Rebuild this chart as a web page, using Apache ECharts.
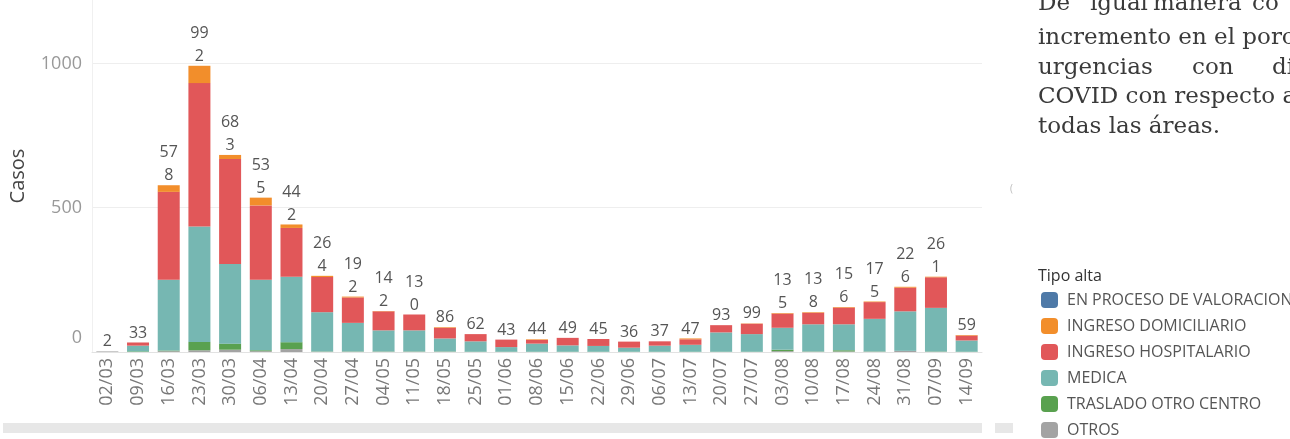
<!DOCTYPE html>
<html>
<head>
<meta charset="utf-8">
<script src="https://cdn.jsdelivr.net/npm/echarts@6/dist/echarts.min.js"></script>
<style>
html,body{margin:0;padding:0;background:#fff;}
#c{width:1290px;height:439px;}
</style>
</head>
<body>
<div id="c"></div>
<script>
var categories = ['02/03','09/03','16/03','23/03','30/03','06/04','13/04','20/04','27/04','04/05','11/05','18/05','25/05','01/06','08/06','15/06','22/06','29/06','06/07','13/07','20/07','27/07','03/08','10/08','17/08','24/08','31/08','07/09','14/09'];
var totals     = [2,33,578,992,683,535,442,264,192,142,130,86,62,43,44,49,45,36,37,47,93,99,135,138,156,175,226,261,59];
var otros      = [2,0,3,6,8,3,10,1,1,1,1,1,0,0,0,0,0,0,0,0,0,0,3,1,2,1,4,1,0];
var traslado   = [0,2,2,29,21,3,24,1,1,1,1,1,1,1,1,1,1,1,1,1,1,1,5,1,4,1,0,1,1];
var medica     = [0,20,245,400,276,244,227,136,99,73,73,45,36,16,28,22,20,14,21,24,67,61,76,94,90,113,137,151,39];
var hospital   = [0,11,305,497,364,258,169,122,88,66,55,37,25,26,13,26,24,21,15,19,25,36,49,40,58,58,82,106,17];
var domicilio  = [0,0,23,60,14,27,12,4,3,1,0,2,0,0,2,0,0,0,0,3,0,1,2,2,2,2,3,2,2];
var proceso    = [0,0,0,0,0,0,0,0,0,0,0,0,0,0,0,0,0,0,0,0,0,0,0,0,0,0,0,0,0];
var yTicks = [0, 500, 1000];
var legendNames = ['EN PROCESO DE VALORACION','INGRESO DOMICILIARIO','INGRESO HOSPITALARIO','MEDICA','TRASLADO OTRO CENTRO','OTROS'];
var colors = {
  'EN PROCESO DE VALORACION':'#4e79a7',
  'INGRESO DOMICILIARIO':'#f28e2b',
  'INGRESO HOSPITALARIO':'#e15759',
  'MEDICA':'#76b7b2',
  'TRASLADO OTRO CENTRO':'#59a14f',
  'OTROS':'#a3a3a3'
};
var sideText = [
  ['De','igual','manera','co'],
  ['incremento en el porc'],
  ['urgencias','con','di'],
  ['COVID con respecto a'],
  ['todas las áreas.']
];

var chart = echarts.init(document.getElementById('c'));
function mk(name, data, extra){
  var s = {name:name, type:'bar', stack:'t', data:data, barWidth:22,
    itemStyle:{color:colors[name]}, emphasis:{disabled:true}};
  if (extra) for (var k in extra) s[k]=extra[k];
  return s;
}
var series = [
  mk('OTROS', otros),
  mk('TRASLADO OTRO CENTRO', traslado),
  mk('MEDICA', medica),
  mk('INGRESO HOSPITALARIO', hospital),
  mk('INGRESO DOMICILIARIO', domicilio),
  mk('EN PROCESO DE VALORACION', proceso, {
    label:{show:true, position:'top', distance:-2, fontFamily:'Open Sans', fontSize:16, color:'#555', lineHeight:23,
      formatter:function(p){var s=String(totals[p.dataIndex]); return s.length>2 ? s.slice(0,2)+'\n'+s.slice(2) : s;}}
  })
];

var lineY = [8, 42, 71.5, 101, 130.5];
var wordX = [
  [1038,1090,1153,1252],
  [1038],
  [1038,1192,1272],
  [1038],
  [1038]
];
var graphics = [];
sideText.forEach(function(words, li){
  words.forEach(function(w, wi){
    graphics.push({type:'text', left:wordX[li][wi], top:lineY[li]-15, silent:true,
      style:{text:w, fontFamily:'DejaVu Serif', fontSize:23, fill:'#3a3a3a'}});
  });
});
graphics.push({type:'text', left:1038, top:268, style:{text:'Tipo alta', fontFamily:'Open Sans', fontSize:16, fill:'#333'}});
graphics.push({type:'text', left:1010, top:184, style:{text:'(', fontFamily:'Open Sans', fontSize:10, fill:'#bbb'}});
graphics.push({type:'rect', shape:{x:3, y:423, width:979, height:10}, style:{fill:'#e7e7e7'}, silent:true});
graphics.push({type:'rect', shape:{x:995, y:423, width:18, height:10}, style:{fill:'#e7e7e7'}, silent:true});

chart.setOption({
  animation:false,
  color: legendNames.map(function(n){return colors[n];}),
  grid:{left:92, right:308, top:0, bottom:87, containLabel:false},
  legend:{orient:'vertical', left:1041, top:292, height:147, padding:0, itemWidth:17, itemHeight:16, itemGap:10,
    data:legendNames, icon:'roundRect', selectedMode:false,
    textStyle:{fontFamily:'Open Sans', fontSize:16, color:'#555', padding:[0,0,0,4]}},
  xAxis:{type:'category', data:categories,
    axisLine:{show:true, lineStyle:{color:'#e2e2e2'}},
    axisTick:{show:false},
    axisLabel:{rotate:90, fontFamily:'Open Sans', fontSize:18, color:'#777', margin:6, interval:0}},
  yAxis:{type:'value', min:0, max:1220, interval:500,
    name:'Casos', nameLocation:'middle', nameGap:64, nameRotate:90,
    nameTextStyle:{fontFamily:'Open Sans', fontSize:20, color:'#444'},
    axisLine:{show:true, lineStyle:{color:'#f0f0f0'}},
    axisTick:{show:false},
    splitLine:{show:true, lineStyle:{color:['#eeeeee','#eeeeee','#eeeeee','rgba(0,0,0,0)']}},
    axisLabel:{showMaxLabel:false, fontFamily:'Open Sans', fontSize:18, color:'#999', margin:10,
      formatter:function(v){ return yTicks.indexOf(v)===0 ? '{z|'+v+'}' : (yTicks.indexOf(v)>0 ? String(v) : ''); },
      rich:{z:{fontFamily:'Open Sans', fontSize:18, color:'#999', padding:[0,0,28,0]}}}},
  series:series,
  graphic:graphics
});
</script>
</body>
</html>
